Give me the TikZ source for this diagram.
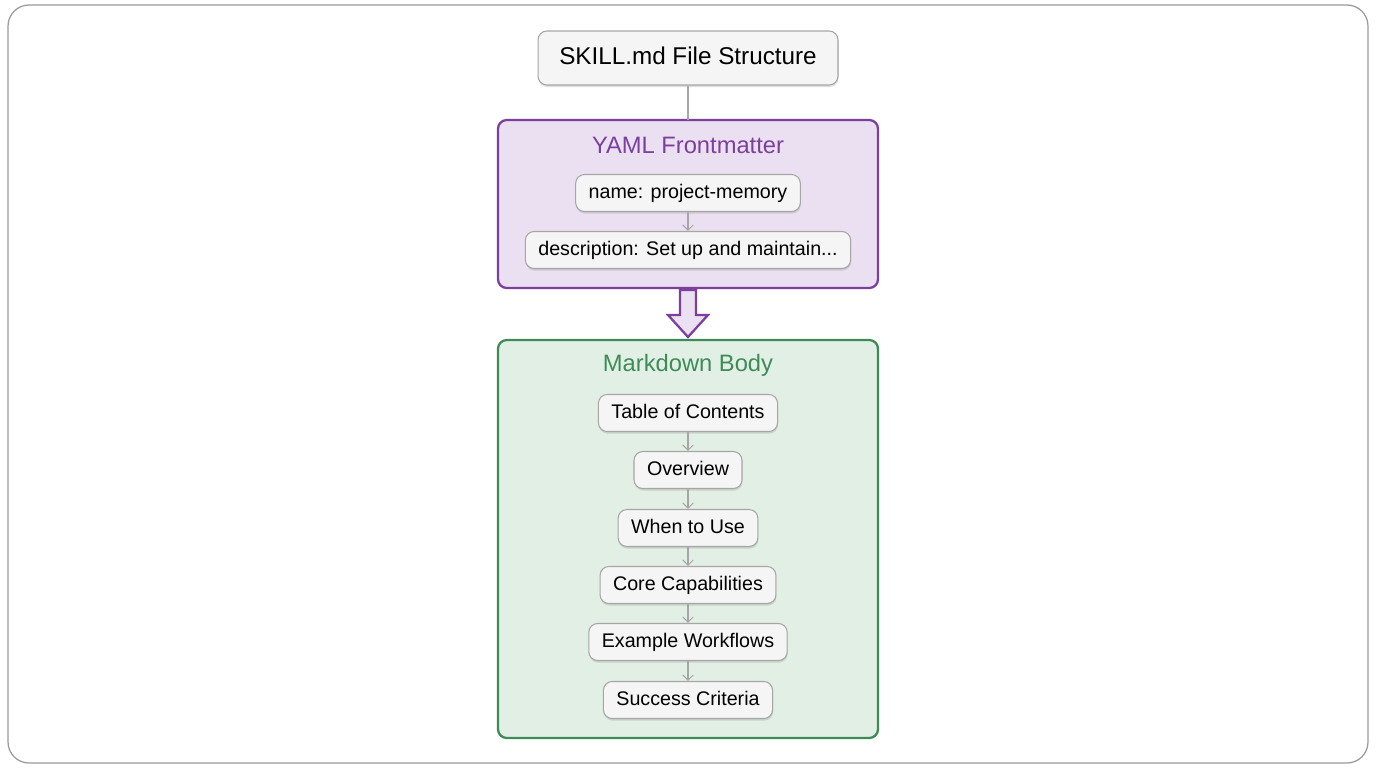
\documentclass[tikz,border=0pt]{standalone}
\usepackage{fontspec}
\setmainfont{Liberation Sans}
\usetikzlibrary{shadows,arrows.meta}
\definecolor{purp}{HTML}{7B3F9E}
\definecolor{purpfill}{HTML}{EBE0F1}
\definecolor{grn}{HTML}{3D8B57}
\definecolor{grnfill}{HTML}{E1EFE5}
\definecolor{nodefill}{HTML}{F5F5F5}
\begin{document}
\begin{tikzpicture}[x=0.02cm,y=-0.02cm,
  item/.style={draw=gray!70,fill=nodefill,rounded corners=5pt,line width=0.6pt,
     minimum height=0.74cm,inner xsep=0.26cm,text height=8.5pt,text depth=2.5pt,font=\fontsize{11.2}{13}\selectfont,
     drop shadow={shadow xshift=0.3pt,shadow yshift=-1.2pt,opacity=0.25}},
  conn/.style={draw=gray!70,line width=0.6pt,-{Straight Barb[length=3pt,width=6pt]}},
  box/.style={rounded corners=5pt,line width=1.3pt}]
\useasboundingbox (0,0) rectangle (1376,768);
\draw[gray!80,rounded corners=12pt,line width=0.7pt] (8,5) rectangle (1368,763);
\node[item,minimum width=6cm,minimum height=1.08cm,text height=10pt,text depth=3pt,font=\fontsize{13.8}{16}\selectfont] (title) at (688,58) {SKILL.md File Structure};
\draw[box,draw=purp,fill=purpfill] (498,120) rectangle (878,288);
\coordinate (ytop) at (688,120);
\draw[gray!70,line width=0.6pt] (title.south) -- (ytop);
\node[text=purp,font=\fontsize{13.5}{15}\selectfont] (yt) at (688,145) {YAML Frontmatter};
\node[item] (n1) at (688,193) {name: project-memory};
\node[item] (n2) at (688,250) {description: Set up and maintain...};
\draw[conn] (n1) -- (n2);
\draw[purp,fill=purpfill,line width=1.3pt,line join=miter] (680,290) -- (696,290) -- (696,315) -- (708,315) -- (688,337) -- (668,315) -- (680,315) -- cycle;
\draw[box,draw=grn,fill=grnfill] (498,340) rectangle (878,738);
\node[text=grn,font=\fontsize{13.5}{15}\selectfont] (mt) at (688,365) {Markdown Body};
\node[item] (m1) at (688,413) {Table of Contents};
\node[item] (m2) at (688,470) {Overview};
\node[item] (m3) at (688,528) {When to Use};
\node[item] (m4) at (688,585) {Core Capabilities};
\node[item] (m5) at (688,642) {Example Workflows};
\node[item] (m6) at (688,700) {Success Criteria};
\foreach \a/\b in {m1/m2,m2/m3,m3/m4,m4/m5,m5/m6} \draw[conn] (\a) -- (\b);
\end{tikzpicture}
\end{document}
